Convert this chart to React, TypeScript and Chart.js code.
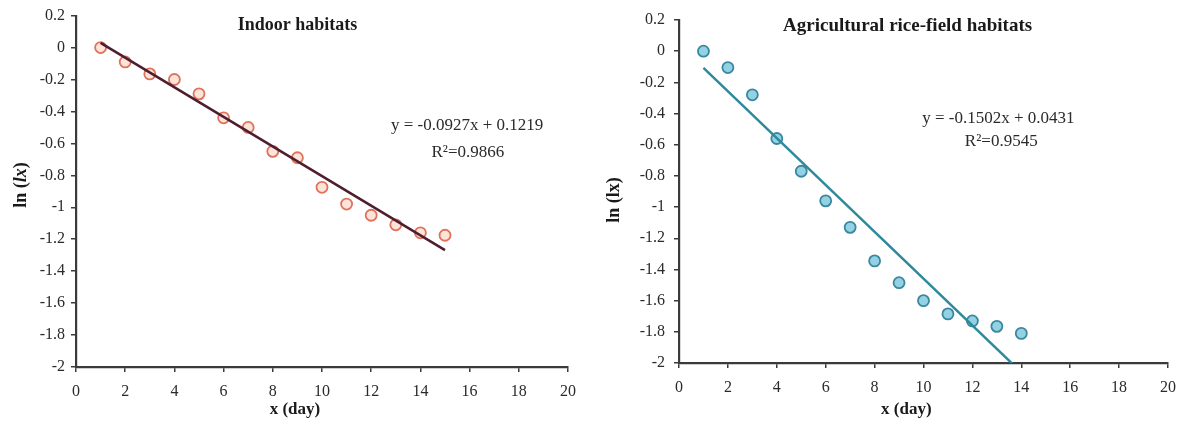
import React, { useEffect, useRef } from "react";
import { Chart, registerables } from "chart.js";

Chart.register(...registerables);

// ---------- data ----------
const indoorDays = [1, 2, 3, 4, 5, 6, 7, 8, 9, 10, 11, 12, 13, 14, 15];
const indoorLnLx = [0, -0.09, -0.165, -0.2, -0.29, -0.44, -0.5, -0.65, -0.69, -0.875, -0.98, -1.05, -1.11, -1.16, -1.175];
const indoorSlope = -0.0927;
const indoorIntercept = 0.1219;
const indoorR2 = "0.9866";

const riceDays = [1, 2, 3, 4, 5, 6, 7, 8, 9, 10, 11, 12, 13, 14];
const riceLnLx = [0, -0.105, -0.28, -0.56, -0.77, -0.96, -1.13, -1.345, -1.485, -1.6, -1.685, -1.73, -1.765, -1.81];
const riceSlope = -0.1502;
const riceIntercept = 0.0431;
const riceR2 = "0.9545";

const xTickValues = [0, 2, 4, 6, 8, 10, 12, 14, 16, 18, 20];
const yTickValues = [0.2, 0, -0.2, -0.4, -0.6, -0.8, -1, -1.2, -1.4, -1.6, -1.8, -2];

const SERIF = "'Liberation Serif', 'Times New Roman', serif";

type Part = { t: string; italic?: boolean };

type PanelSpec = {
  title: string;
  titleSize: number;
  days: number[];
  values: number[];
  slope: number;
  intercept: number;
  r2: string;
  markerFill: string;
  markerBorder: string;
  lineColor: string;
  yTitle: Part[];
  xTitle: string;
  // text anchors in data units
  titleAt: [number, number];
  eqAt: [number, number];
  r2At: [number, number];
  xTitleAtX: number;
  xTitleY: number; // px from canvas top
  yTitleAtY: number;
  yTitleX: number; // px from canvas left
  yAxisWidth: number;
  yTickPad: number;
  padding: { top: number; right: number };
  xAxisHeight: number;
};

function fmtEq(slope: number, intercept: number) {
  return `y = ${slope.toFixed(4)}x + ${intercept.toFixed(4)}`;
}

function buildConfig(p: PanelSpec): any {
  const pts = p.days.map((d, i) => ({ x: d, y: p.values[i] }));
  const x0 = p.days[0];
  const x1 = p.days[p.days.length - 1];
  const fit = [
    { x: x0, y: p.slope * x0 + p.intercept },
    { x: x1, y: p.slope * x1 + p.intercept },
  ];

  const textPlugin = {
    id: "panelText",
    afterDraw(chart: any) {
      const { ctx, scales } = chart;
      const xs = scales.x;
      const ys = scales.y;
      ctx.save();
      ctx.fillStyle = "#1a1a1a";
      ctx.textAlign = "center";
      ctx.textBaseline = "middle";
      // title
      ctx.font = `bold ${p.titleSize}px ${SERIF}`;
      ctx.fillText(p.title, xs.getPixelForValue(p.titleAt[0]), ys.getPixelForValue(p.titleAt[1]));
      // x-axis title
      ctx.font = `bold 17px ${SERIF}`;
      ctx.fillText(p.xTitle, xs.getPixelForValue(p.xTitleAtX), p.xTitleY);
      // equation
      ctx.fillStyle = "#2a2a2a";
      ctx.font = `17px ${SERIF}`;
      ctx.fillText(fmtEq(p.slope, p.intercept), xs.getPixelForValue(p.eqAt[0]), ys.getPixelForValue(p.eqAt[1]));
      ctx.fillText(`R²=${p.r2}`, xs.getPixelForValue(p.r2At[0]), ys.getPixelForValue(p.r2At[1]));
      // y-axis title (rotated, mixed italic)
      ctx.fillStyle = "#1a1a1a";
      const fontFor = (it?: boolean) => `${it ? "italic " : ""}bold 18px ${SERIF}`;
      let total = 0;
      const widths = p.yTitle.map((part) => {
        ctx.font = fontFor(part.italic);
        const w = ctx.measureText(part.t).width;
        total += w;
        return w;
      });
      ctx.translate(p.yTitleX, ys.getPixelForValue(p.yTitleAtY));
      ctx.rotate(-Math.PI / 2);
      ctx.textAlign = "left";
      let cx = -total / 2;
      p.yTitle.forEach((part, i) => {
        ctx.font = fontFor(part.italic);
        ctx.fillText(part.t, cx, 0);
        cx += widths[i];
      });
      ctx.restore();
    },
  };

  return {
    type: "scatter",
    data: {
      datasets: [
        {
          type: "line",
          label: "trend",
          data: fit,
          borderColor: p.lineColor,
          borderWidth: 2.5,
          pointRadius: 0,
          fill: false,
          clip: 0,
          order: 0,
        },
        {
          label: "ln(lx)",
          data: pts,
          backgroundColor: p.markerFill,
          borderColor: p.markerBorder,
          borderWidth: 1.8,
          pointRadius: 5.5,
          order: 1,
        },
      ],
    },
    options: {
      animation: false,
      responsive: true,
      maintainAspectRatio: false,
      layout: { padding: { left: 0, top: p.padding.top, right: p.padding.right, bottom: 0 } },
      plugins: {
        legend: { display: false },
        tooltip: { enabled: false },
        title: { display: false },
      },
      scales: {
        x: {
          type: "linear",
          min: 0,
          max: 20,
          afterBuildTicks: (s: any) => {
            s.ticks = xTickValues.map((v) => ({ value: v }));
          },
          afterFit: (s: any) => {
            s.height = p.xAxisHeight;
          },
          ticks: {
            callback: (v: any) => String(v),
            color: "#2a2a2a",
            font: { family: SERIF, size: 16 },
            padding: 10,
            maxRotation: 0,
            autoSkip: false,
          },
          grid: { drawOnChartArea: false, drawTicks: true, tickLength: 5, color: "#3a3a3a", lineWidth: 1.5 },
          border: { display: true, color: "#3a3a3a", width: 2.2 },
          title: { display: false },
        },
        y: {
          type: "linear",
          min: -2,
          max: 0.2,
          afterBuildTicks: (s: any) => {
            s.ticks = yTickValues.map((v) => ({ value: v }));
          },
          afterFit: (s: any) => {
            s.width = p.yAxisWidth;
          },
          ticks: {
            callback: (v: any) => String(v),
            color: "#2a2a2a",
            font: { family: SERIF, size: 16 },
            padding: p.yTickPad,
            autoSkip: false,
          },
          grid: { drawOnChartArea: false, drawTicks: true, tickLength: 5, color: "#3a3a3a", lineWidth: 1.5 },
          border: { display: true, color: "#3a3a3a", width: 2.2 },
          title: { display: false },
        },
      },
    },
    plugins: [textPlugin],
  };
}

const indoorSpec: PanelSpec = {
  title: "Indoor habitats",
  titleSize: 18,
  days: indoorDays,
  values: indoorLnLx,
  slope: indoorSlope,
  intercept: indoorIntercept,
  r2: indoorR2,
  markerFill: "#fde4da",
  markerBorder: "#e0725c",
  lineColor: "#4f1d2e",
  yTitle: [{ t: "ln (" }, { t: "lx", italic: true }, { t: ")" }],
  xTitle: "x (day)",
  titleAt: [9.0, 0.1375],
  eqAt: [15.9, -0.49],
  r2At: [15.93, -0.66],
  xTitleAtX: 8.9,
  xTitleY: 410,
  yTitleAtY: -0.86,
  yTitleX: 21,
  yAxisWidth: 76,
  yTickPad: 6,
  padding: { top: 15, right: 22 },
  xAxisHeight: 65,
};

const riceSpec: PanelSpec = {
  title: "Agricultural rice-field habitats",
  titleSize: 19,
  days: riceDays,
  values: riceLnLx,
  slope: riceSlope,
  intercept: riceIntercept,
  r2: riceR2,
  markerFill: "#92d2e4",
  markerBorder: "#3a889e",
  lineColor: "#2e8a9b",
  yTitle: [{ t: "ln (lx)" }],
  xTitle: "x (day)",
  titleAt: [9.35, 0.158],
  eqAt: [13.06, -0.43],
  r2At: [13.18, -0.58],
  xTitleAtX: 9.3,
  xTitleY: 410,
  yTitleAtY: -0.955,
  yTitleX: 24,
  yAxisWidth: 89,
  yTickPad: 9,
  padding: { top: 20, right: 17 },
  xAxisHeight: 69,
};

function Panel({ spec, left, width }: { spec: PanelSpec; left: number; width: number }) {
  const ref = useRef<HTMLCanvasElement | null>(null);
  useEffect(() => {
    if (!ref.current) return;
    const chart = new Chart(ref.current, buildConfig(spec));
    return () => chart.destroy();
  }, [spec]);
  return (
    <div style={{ position: "absolute", left, top: 0, width, height: 432 }}>
      <canvas ref={ref} />
    </div>
  );
}

export default function App() {
  return (
    <div style={{ position: "absolute", left: 0, top: 0, width: 1186, height: 432, background: "#ffffff", overflow: "hidden" }}>
      <Panel spec={indoorSpec} left={0} width={590} />
      <Panel spec={riceSpec} left={590} width={596} />
    </div>
  );
}
